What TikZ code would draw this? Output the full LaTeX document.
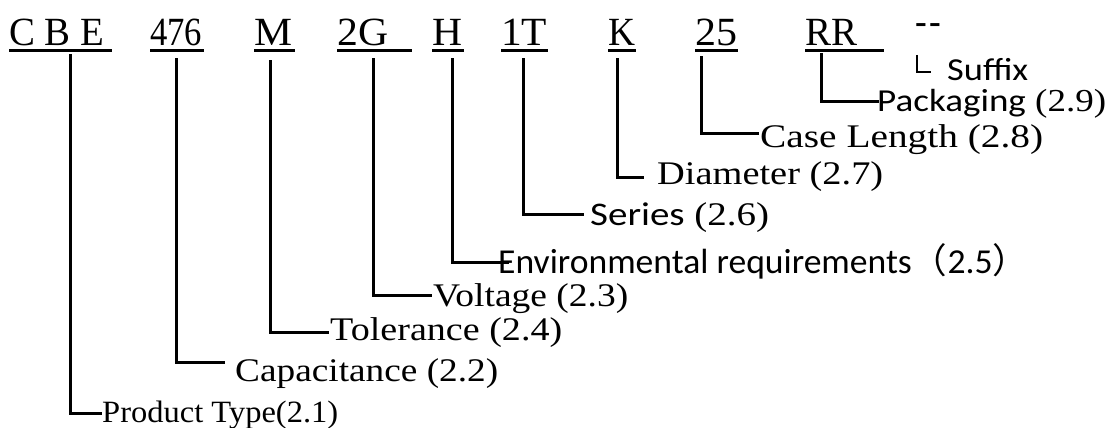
\documentclass[tikz,border=0pt]{standalone}
\usepackage{fontspec}
\usepackage{graphicx}
\setmainfont{Liberation Serif}
\newfontfamily\calfont{Carlito}
\newfontfamily\cjkfont{Noto Sans CJK SC}
\newcommand\fitto[2]{\resizebox{#1}{\height}{#2}}
\newcommand\codebox[3]{\makebox[#1][l]{\fitto{#2}{#3}}}
\tikzset{
  code/.style={anchor=base west, inner sep=0pt, font=\fontsize{40}{40}\selectfont},
  lab/.style={anchor=base west, inner sep=0pt, font=\fontsize{33}{33}\selectfont},
  sanslab/.style={anchor=base west, inner sep=0pt},
  conn/.style={line width=3pt, line cap=rect},
  uline/.style={line width=3pt}
}
\begin{document}
\begin{tikzpicture}[x=1pt,y=-1pt]
\useasboundingbox (0,0) rectangle (1111,428);
% codes
\node[code] (c1) at (9,46)   {\codebox{103pt}{95pt}{C B E}};
\node[code] (c2) at (150,46) {\codebox{54pt}{52pt}{476}};
\node[code] (c3) at (254,46) {\codebox{41pt}{38pt}{M}};
\node[code] (c4) at (337,46) {\codebox{75pt}{51pt}{2G}};
\node[code] (c5) at (432,46) {\codebox{32pt}{30pt}{H}};
\node[code] (c6) at (501,46) {\codebox{47pt}{46pt}{1T}};
\node[code] (c7) at (608,46) {\codebox{28pt}{27pt}{K}};
\node[code] (c8) at (695,46) {\codebox{43pt}{42pt}{25}};
\node[code] (c9) at (805,46) {\codebox{79pt}{52pt}{RR}};
\node[code] (c10) at (915,35) {\fitto{26pt}{-\kern3pt-}};
% underlines
\foreach \n in {c1,c2,c3,c4,c5,c6,c7,c8,c9}
  \draw[uline] ([yshift=-5pt]\n.base west) -- ([yshift=-5pt]\n.base east);
% labels
\node[lab] (l1) at (102,422) {\fitto{236pt}{\fontsize{31}{31}\selectfont Product Type(2.1)}};
\node[lab] (l2) at (235,381) {\fitto{263pt}{Capacitance (2.2)}};
\node[lab] (l3) at (330,340) {\fitto{232pt}{Tolerance (2.4)}};
\node[lab] (l4) at (433,306) {\fitto{195pt}{Voltage (2.3)}};
\node[sanslab] (l5) at (498,273) {\fitto{530pt}{\fontsize{35}{35}\selectfont\calfont Environmental requirements{\cjkfont （}2.5{\cjkfont ）}}};
\node[sanslab] (l6) at (590,225) {\fitto{179pt}{\fontsize{33}{33}\selectfont{\calfont Series} (2.6)}};
\node[lab] (l7) at (657,184) {\fitto{226pt}{Diameter (2.7)}};
\node[lab] (l8) at (760,147) {\fitto{283pt}{Case Length (2.8)}};
\node[sanslab] (l9) at (877,111) {\fitto{229pt}{\fontsize{32}{32}\selectfont{\calfont Packaging} (2.9)}};
\node[sanslab] (l10) at (947,81) {\fitto{81pt}{\fontsize{32}{32}\selectfont\calfont Suffix}};
% connector ends
\coordinate (t1) at (70,56);   \coordinate (e1) at (100,413);
\coordinate (t2) at (176,60);  \coordinate (e2) at (223,362);
\coordinate (t3) at (270,62);  \coordinate (e3) at (327,332);
\coordinate (t4) at (373,60);  \coordinate (e4) at (430,295);
\coordinate (t5) at (452,60);  \coordinate (e5) at (507,262);
\coordinate (t6) at (523,60);  \coordinate (e6) at (582,214);
\coordinate (t7) at (617,60);  \coordinate (e7) at (642,177);
\coordinate (t8) at (701,58);  \coordinate (e8) at (757,133);
\coordinate (t9) at (821,55);  \coordinate (e9) at (877,101);
\coordinate (t10) at (917,55); \coordinate (e10) at (931,72);
\foreach \i in {1,...,9}
  \draw[conn] (t\i) |- (e\i);
\draw[line width=2.4pt] (t10) |- (e10);
\end{tikzpicture}
\end{document}
